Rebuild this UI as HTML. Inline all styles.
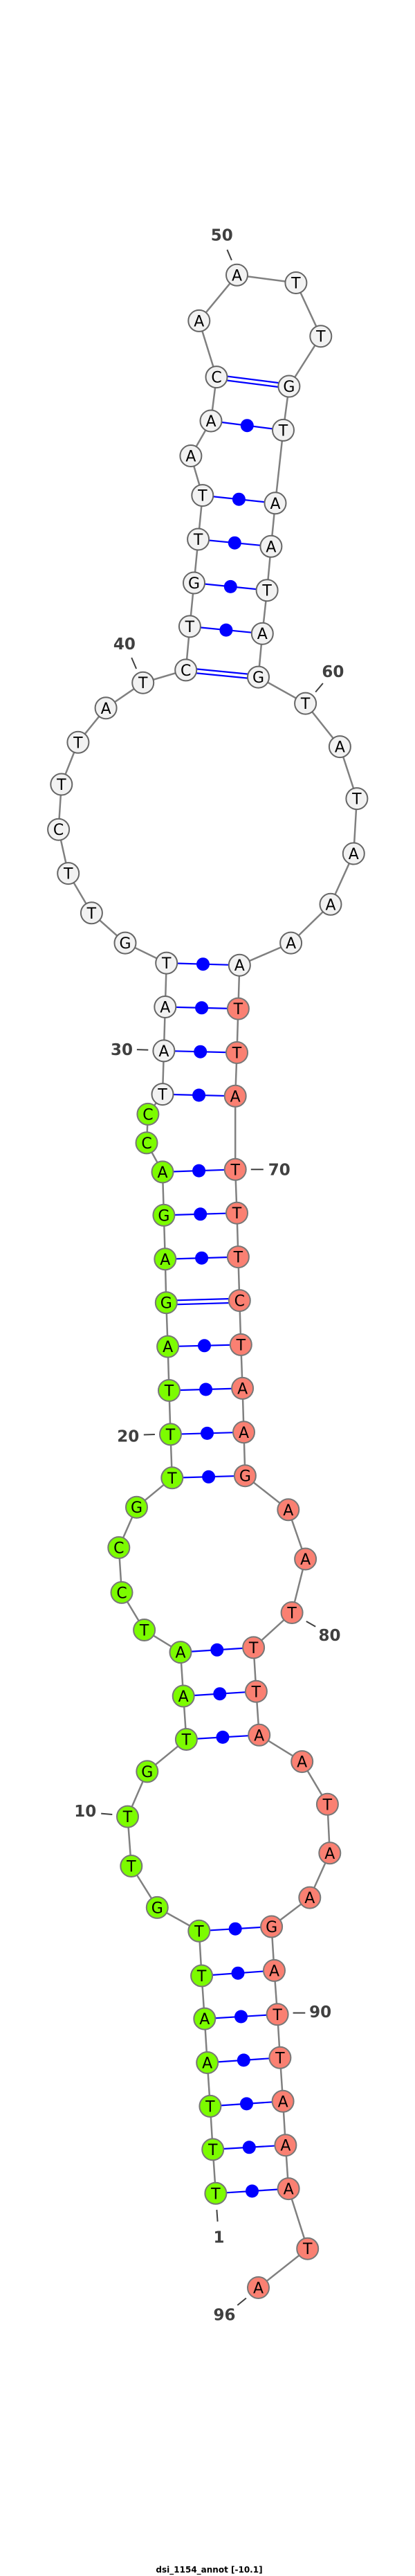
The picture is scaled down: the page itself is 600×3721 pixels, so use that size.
<!DOCTYPE html>
<html><head><meta charset="utf-8"><style>
html,body{margin:0;padding:0;background:#fff;}
svg{display:block;}
.n{font-family:"DejaVu Sans","Liberation Sans",sans-serif;font-size:22px;text-anchor:middle;fill:#000;}
.l{font-family:"DejaVu Sans","Liberation Sans",sans-serif;font-size:23px;font-weight:bold;text-anchor:middle;fill:#404040;}
</style></head><body>
<svg width="600" height="3721" viewBox="0 0 600 3721" xmlns="http://www.w3.org/2000/svg">
<polyline fill="none" stroke="#808080" stroke-width="2.5" points="311.9,3168.3 307.7,3104.9 303.9,3042.4 299.7,2979.5 295.8,2916.1 291.6,2854 287.8,2789.3 227.3,2755.4 189.8,2695.5 184.5,2624.1 212.8,2558.9 269.4,2512.5 265.2,2450 261,2386.6 208.6,2354.5 176,2300.4 171.8,2235.5 197.5,2177.2 248.8,2134.8 246.5,2071.9 244.5,2008.5 242.6,1945.1 240.3,1881.7 238.8,1818.8 236.9,1755.4 235,1692.9 212,1650.9 213.9,1609.4 235,1580.6 236.9,1517.9 238.8,1454.5 240.7,1391.1 181,1362.1 132.4,1318.8 98.7,1261.6 84.6,1198.2 88.8,1133 112.9,1072.3 153.1,1022.8 206.7,986.2 268.7,967.9 274.4,904.9 280.5,842 286.6,779 292.8,715.6 275.9,658.5 305,608 313,544.6 287.8,463.4 342.5,397.3 427.9,408.5 463.8,485.7 417.9,558 409.5,621.4 398,726.8 391.9,789.3 386.1,852.7 379.3,915.2 373.5,978.1 441.6,1016.1 491.4,1078.6 515.9,1153.6 511.3,1233 478,1306.3 420.6,1362.1 346.3,1394.2 344.4,1457.1 342.5,1520.5 340.2,1583.3 340.2,1689.3 342.5,1752.2 344.4,1815.6 346.3,1878.6 348.3,1942.4 350.6,2005.4 352.5,2068.8 354.4,2131.7 416.8,2180.8 441.6,2252 422.1,2329.5 366.6,2379.9 370.4,2443.3 374.7,2506.3 436.7,2544.6 473.4,2606.3 476.8,2676.8 447.8,2741.1 392.6,2783 396.5,2846.4 401.1,2909.8 404.9,2972.3 409.1,3035.3 412.9,3098.7 417.1,3161.6 444.7,3248.2 373.5,3304.5"/>
<g stroke="#0000ff" stroke-width="2.2">
<line x1="311.9" y1="3168.3" x2="417.1" y2="3161.6"/>
<line x1="307.7" y1="3104.9" x2="412.9" y2="3098.7"/>
<line x1="303.9" y1="3042.4" x2="409.1" y2="3035.3"/>
<line x1="299.7" y1="2979.5" x2="404.9" y2="2972.3"/>
<line x1="295.8" y1="2916.1" x2="401.1" y2="2909.8"/>
<line x1="291.6" y1="2854" x2="396.5" y2="2846.4"/>
<line x1="287.8" y1="2789.3" x2="392.6" y2="2783"/>
<line x1="269.4" y1="2512.5" x2="374.7" y2="2506.3"/>
<line x1="265.2" y1="2450" x2="370.4" y2="2443.3"/>
<line x1="261" y1="2386.6" x2="366.6" y2="2379.9"/>
<line x1="248.8" y1="2134.8" x2="354.4" y2="2131.7"/>
<line x1="246.5" y1="2071.9" x2="352.5" y2="2068.8"/>
<line x1="244.5" y1="2008.5" x2="350.6" y2="2005.4"/>
<line x1="242.6" y1="1945.1" x2="348.3" y2="1942.4"/>
<line x1="240.3" y1="1878.7" x2="346.3" y2="1875.6"/>
<line x1="240.3" y1="1884.7" x2="346.3" y2="1881.6"/>
<line x1="238.8" y1="1818.8" x2="344.4" y2="1815.6"/>
<line x1="236.9" y1="1755.4" x2="342.5" y2="1752.2"/>
<line x1="235" y1="1692.9" x2="340.2" y2="1689.3"/>
<line x1="235" y1="1580.6" x2="340.2" y2="1583.3"/>
<line x1="236.9" y1="1517.9" x2="342.5" y2="1520.5"/>
<line x1="238.8" y1="1454.5" x2="344.4" y2="1457.1"/>
<line x1="240.7" y1="1391.1" x2="346.3" y2="1394.2"/>
<line x1="268.7" y1="964.9" x2="373.5" y2="975.1"/>
<line x1="268.7" y1="970.9" x2="373.5" y2="981.1"/>
<line x1="274.4" y1="904.9" x2="379.3" y2="915.2"/>
<line x1="280.5" y1="842" x2="386.1" y2="852.7"/>
<line x1="286.6" y1="779" x2="391.9" y2="789.3"/>
<line x1="292.8" y1="715.6" x2="398" y2="726.8"/>
<line x1="305" y1="608" x2="409.5" y2="621.4"/>
<line x1="313" y1="541.6" x2="417.9" y2="555"/>
<line x1="313" y1="547.6" x2="417.9" y2="561"/>
</g>
<g fill="#0000ff">
<circle cx="364.5" cy="3165" r="9.5"/><circle cx="360.3" cy="3101.8" r="9.5"/><circle cx="356.5" cy="3038.9" r="9.5"/><circle cx="352.3" cy="2975.9" r="9.5"/><circle cx="348.5" cy="2913" r="9.5"/><circle cx="344" cy="2850.2" r="9.5"/><circle cx="340.2" cy="2786.2" r="9.5"/>
<circle cx="322" cy="2509.4" r="9.5"/><circle cx="317.8" cy="2446.7" r="9.5"/><circle cx="313.8" cy="2383.3" r="9.5"/>
<circle cx="301.6" cy="2133.3" r="9.5"/><circle cx="299.5" cy="2070.4" r="9.5"/><circle cx="297.6" cy="2007" r="9.5"/><circle cx="295.5" cy="1943.8" r="9.5"/><circle cx="291.6" cy="1817.2" r="9.5"/><circle cx="289.7" cy="1753.8" r="9.5"/><circle cx="287.6" cy="1691.1" r="9.5"/>
<circle cx="287.6" cy="1582" r="9.5"/><circle cx="289.7" cy="1519.2" r="9.5"/><circle cx="291.6" cy="1455.8" r="9.5"/><circle cx="293.5" cy="1392.7" r="9.5"/>
<circle cx="326.9" cy="910.1" r="9.5"/><circle cx="333.3" cy="847.4" r="9.5"/><circle cx="339.3" cy="784.2" r="9.5"/><circle cx="345.4" cy="721.2" r="9.5"/><circle cx="357.3" cy="614.7" r="9.5"/>
</g>
<g stroke="#777" stroke-width="2">
<g fill="#7cfc00">
<circle cx="311.9" cy="3168.3" r="15.5"/><circle cx="307.7" cy="3104.9" r="15.5"/><circle cx="303.9" cy="3042.4" r="15.5"/><circle cx="299.7" cy="2979.5" r="15.5"/><circle cx="295.8" cy="2916.1" r="15.5"/><circle cx="291.6" cy="2854" r="15.5"/><circle cx="287.8" cy="2789.3" r="15.5"/><circle cx="227.3" cy="2755.4" r="15.5"/><circle cx="189.8" cy="2695.5" r="15.5"/><circle cx="184.5" cy="2624.1" r="15.5"/><circle cx="212.8" cy="2558.9" r="15.5"/><circle cx="269.4" cy="2512.5" r="15.5"/><circle cx="265.2" cy="2450" r="15.5"/><circle cx="261" cy="2386.6" r="15.5"/><circle cx="208.6" cy="2354.5" r="15.5"/><circle cx="176" cy="2300.4" r="15.5"/><circle cx="171.8" cy="2235.5" r="15.5"/><circle cx="197.5" cy="2177.2" r="15.5"/><circle cx="248.8" cy="2134.8" r="15.5"/><circle cx="246.5" cy="2071.9" r="15.5"/><circle cx="244.5" cy="2008.5" r="15.5"/><circle cx="242.6" cy="1945.1" r="15.5"/><circle cx="240.3" cy="1881.7" r="15.5"/><circle cx="238.8" cy="1818.8" r="15.5"/><circle cx="236.9" cy="1755.4" r="15.5"/><circle cx="235" cy="1692.9" r="15.5"/><circle cx="212" cy="1650.9" r="15.5"/><circle cx="213.9" cy="1609.4" r="15.5"/>
</g>
<g fill="#f2f2f2" stroke="#666">
<circle cx="235" cy="1580.6" r="15.5"/><circle cx="236.9" cy="1517.9" r="15.5"/><circle cx="238.8" cy="1454.5" r="15.5"/><circle cx="240.7" cy="1391.1" r="15.5"/><circle cx="181" cy="1362.1" r="15.5"/><circle cx="132.4" cy="1318.8" r="15.5"/><circle cx="98.7" cy="1261.6" r="15.5"/><circle cx="84.6" cy="1198.2" r="15.5"/><circle cx="88.8" cy="1133" r="15.5"/><circle cx="112.9" cy="1072.3" r="15.5"/><circle cx="153.1" cy="1022.8" r="15.5"/><circle cx="206.7" cy="986.2" r="15.5"/><circle cx="268.7" cy="967.9" r="15.5"/><circle cx="274.4" cy="904.9" r="15.5"/><circle cx="280.5" cy="842" r="15.5"/><circle cx="286.6" cy="779" r="15.5"/><circle cx="292.8" cy="715.6" r="15.5"/><circle cx="275.9" cy="658.5" r="15.5"/><circle cx="305" cy="608" r="15.5"/><circle cx="313" cy="544.6" r="15.5"/><circle cx="287.8" cy="463.4" r="15.5"/><circle cx="342.5" cy="397.3" r="15.5"/><circle cx="427.9" cy="408.5" r="15.5"/><circle cx="463.8" cy="485.7" r="15.5"/><circle cx="417.9" cy="558" r="15.5"/><circle cx="409.5" cy="621.4" r="15.5"/><circle cx="398" cy="726.8" r="15.5"/><circle cx="391.9" cy="789.3" r="15.5"/><circle cx="386.1" cy="852.7" r="15.5"/><circle cx="379.3" cy="915.2" r="15.5"/><circle cx="373.5" cy="978.1" r="15.5"/><circle cx="441.6" cy="1016.1" r="15.5"/><circle cx="491.4" cy="1078.6" r="15.5"/><circle cx="515.9" cy="1153.6" r="15.5"/><circle cx="511.3" cy="1233" r="15.5"/><circle cx="478" cy="1306.3" r="15.5"/><circle cx="420.6" cy="1362.1" r="15.5"/><circle cx="346.3" cy="1394.2" r="15.5"/>
</g>
<g fill="#fa8072">
<circle cx="344.4" cy="1457.1" r="15.5"/><circle cx="342.5" cy="1520.5" r="15.5"/><circle cx="340.2" cy="1583.3" r="15.5"/><circle cx="340.2" cy="1689.3" r="15.5"/><circle cx="342.5" cy="1752.2" r="15.5"/><circle cx="344.4" cy="1815.6" r="15.5"/><circle cx="346.3" cy="1878.6" r="15.5"/><circle cx="348.3" cy="1942.4" r="15.5"/><circle cx="350.6" cy="2005.4" r="15.5"/><circle cx="352.5" cy="2068.8" r="15.5"/><circle cx="354.4" cy="2131.7" r="15.5"/><circle cx="416.8" cy="2180.8" r="15.5"/><circle cx="441.6" cy="2252" r="15.5"/><circle cx="422.1" cy="2329.5" r="15.5"/><circle cx="366.6" cy="2379.9" r="15.5"/><circle cx="370.4" cy="2443.3" r="15.5"/><circle cx="374.7" cy="2506.3" r="15.5"/><circle cx="436.7" cy="2544.6" r="15.5"/><circle cx="473.4" cy="2606.3" r="15.5"/><circle cx="476.8" cy="2676.8" r="15.5"/><circle cx="447.8" cy="2741.1" r="15.5"/><circle cx="392.6" cy="2783" r="15.5"/><circle cx="396.5" cy="2846.4" r="15.5"/><circle cx="401.1" cy="2909.8" r="15.5"/><circle cx="404.9" cy="2972.3" r="15.5"/><circle cx="409.1" cy="3035.3" r="15.5"/><circle cx="412.9" cy="3098.7" r="15.5"/><circle cx="417.1" cy="3161.6" r="15.5"/><circle cx="444.7" cy="3248.2" r="15.5"/><circle cx="373.5" cy="3304.5" r="15.5"/>
</g>
</g>
<g class="n" transform="translate(0,1)">
<text x="311.9" y="3175.3">T</text><text x="307.7" y="3111.9">T</text><text x="303.9" y="3049.4">T</text><text x="299.7" y="2986.5">A</text><text x="295.8" y="2923.1">A</text><text x="291.6" y="2861">T</text><text x="287.8" y="2796.3">T</text><text x="227.3" y="2762.4">G</text><text x="189.8" y="2702.5">T</text><text x="184.5" y="2631.1">T</text><text x="212.8" y="2565.9">G</text><text x="269.4" y="2519.5">T</text><text x="265.2" y="2457">A</text><text x="261" y="2393.6">A</text><text x="208.6" y="2361.5">T</text><text x="176" y="2307.4">C</text><text x="171.8" y="2242.5">C</text><text x="197.5" y="2184.2">G</text><text x="248.8" y="2141.8">T</text><text x="246.5" y="2078.9">T</text><text x="244.5" y="2015.5">T</text><text x="242.6" y="1952.1">A</text><text x="240.3" y="1888.7">G</text><text x="238.8" y="1825.8">A</text><text x="236.9" y="1762.4">G</text><text x="235" y="1699.9">A</text><text x="212" y="1657.9">C</text><text x="213.9" y="1616.4">C</text>
<text x="235" y="1587.6">T</text><text x="236.9" y="1524.9">A</text><text x="238.8" y="1461.5">A</text><text x="240.7" y="1398.1">T</text><text x="181" y="1369.1">G</text><text x="132.4" y="1325.8">T</text><text x="98.7" y="1268.6">T</text><text x="84.6" y="1205.2">C</text><text x="88.8" y="1140">T</text><text x="112.9" y="1079.3">T</text><text x="153.1" y="1029.8">A</text><text x="206.7" y="993.2">T</text><text x="268.7" y="974.9">C</text><text x="274.4" y="911.9">T</text><text x="280.5" y="849">G</text><text x="286.6" y="786">T</text><text x="292.8" y="722.6">T</text><text x="275.9" y="665.5">A</text><text x="305" y="615">A</text><text x="313" y="551.6">C</text><text x="287.8" y="470.4">A</text><text x="342.5" y="404.3">A</text><text x="427.9" y="415.5">T</text><text x="463.8" y="492.7">T</text><text x="417.9" y="565">G</text><text x="409.5" y="628.4">T</text><text x="398" y="733.8">A</text><text x="391.9" y="796.3">A</text><text x="386.1" y="859.7">T</text><text x="379.3" y="922.2">A</text><text x="373.5" y="985.1">G</text><text x="441.6" y="1023.1">T</text><text x="491.4" y="1085.6">A</text><text x="515.9" y="1160.6">T</text><text x="511.3" y="1240">A</text><text x="478" y="1313.3">A</text><text x="420.6" y="1369.1">A</text><text x="346.3" y="1401.2">A</text>
<text x="344.4" y="1464.1">T</text><text x="342.5" y="1527.5">T</text><text x="340.2" y="1590.3">A</text><text x="340.2" y="1696.3">T</text><text x="342.5" y="1759.2">T</text><text x="344.4" y="1822.6">T</text><text x="346.3" y="1885.6">C</text><text x="348.3" y="1949.4">T</text><text x="350.6" y="2012.4">A</text><text x="352.5" y="2075.8">A</text><text x="354.4" y="2138.7">G</text><text x="416.8" y="2187.8">A</text><text x="441.6" y="2259">A</text><text x="422.1" y="2336.5">T</text><text x="366.6" y="2386.9">T</text><text x="370.4" y="2450.3">T</text><text x="374.7" y="2513.3">A</text><text x="436.7" y="2551.6">A</text><text x="473.4" y="2613.3">T</text><text x="476.8" y="2683.8">A</text><text x="447.8" y="2748.1">A</text><text x="392.6" y="2790">G</text><text x="396.5" y="2853.4">A</text><text x="401.1" y="2916.8">T</text><text x="404.9" y="2979.3">T</text><text x="409.1" y="3042.3">A</text><text x="412.9" y="3105.7">A</text><text x="417.1" y="3168.6">A</text><text x="444.7" y="3255.2">T</text><text x="373.5" y="3311.5">A</text>
</g>
<g stroke="#404040" stroke-width="2">
<line x1="328.4" y1="360.7" x2="334.9" y2="375.9"/>
<line x1="190.2" y1="950" x2="197.1" y2="966"/>
<line x1="466.9" y1="987" x2="456.2" y2="999.6"/>
<line x1="197.9" y1="1516.1" x2="214.3" y2="1516.6"/>
<line x1="362.8" y1="1689.3" x2="380.8" y2="1689.3"/>
<line x1="207.8" y1="2072.5" x2="223.9" y2="2072"/>
<line x1="442.8" y1="2342" x2="456.2" y2="2349.6"/>
<line x1="146.2" y1="2619.6" x2="162.3" y2="2621"/>
<line x1="423.6" y1="2907.6" x2="441.3" y2="2907.6"/>
<line x1="313.4" y1="3192" x2="314.6" y2="3209"/>
<line x1="343.3" y1="3329.9" x2="355.9" y2="3319.6"/>
</g>
<g class="l">
<text x="320.7" y="347.3">50</text>
<text x="179.9" y="937.9">40</text>
<text x="481.4" y="978.1">60</text>
<text x="176" y="1524.1">30</text>
<text x="403.7" y="1697.3">70</text>
<text x="185.2" y="2082.6">20</text>
<text x="476.5" y="2370.1">80</text>
<text x="123.2" y="2624.1">10</text>
<text x="463.1" y="2913.8">90</text>
<text x="316.5" y="3239.7">1</text>
<text x="324.5" y="3351.3">96</text>
</g>
<text x="302.5" y="3716" font-family="DejaVu Sans, Liberation Sans, sans-serif" font-size="12" font-weight="bold" text-anchor="middle" fill="#000">dsi_1154_annot [-10.1]</text>
</svg>
</body></html>
